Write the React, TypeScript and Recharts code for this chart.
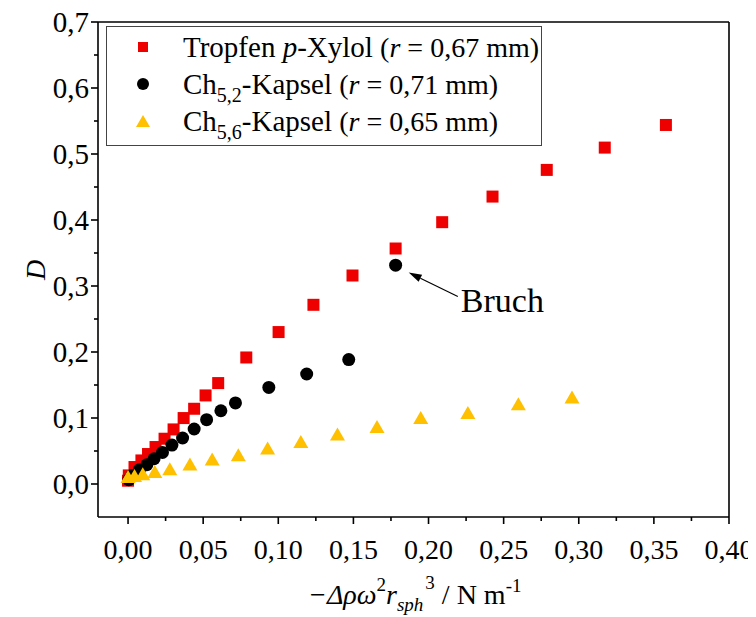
import React from "react";
import { ScatterChart, Scatter, XAxis, YAxis, ReferenceLine } from "recharts";

// ---- data ----
const tropfenX = [0.0, 0.0005, 0.0043, 0.0089, 0.0133, 0.0183, 0.0243, 0.0303, 0.037, 0.044, 0.0516, 0.06, 0.0787, 0.1002, 0.1234, 0.1494, 0.1781, 0.2091, 0.2426, 0.2787, 0.3173, 0.358];
const tropfenY = [0.005, 0.013, 0.0257, 0.0357, 0.0454, 0.056, 0.0686, 0.0827, 0.0999, 0.114, 0.1342, 0.1529, 0.1917, 0.2302, 0.2715, 0.3159, 0.3568, 0.3967, 0.4355, 0.4759, 0.5097, 0.544];
const kapsel52X = [0.0005, 0.0027, 0.0076, 0.0125, 0.0173, 0.0229, 0.0292, 0.0363, 0.044, 0.0523, 0.0618, 0.0715, 0.0937, 0.1189, 0.1469, 0.1781];
const kapsel52Y = [0.0065, 0.013, 0.0217, 0.0292, 0.0383, 0.0479, 0.059, 0.0697, 0.0833, 0.0974, 0.111, 0.1228, 0.1463, 0.1667, 0.1885, 0.3316];
const kapsel56X = [0.0, 0.0043, 0.0098, 0.0178, 0.0278, 0.0412, 0.056, 0.0734, 0.0929, 0.115, 0.1394, 0.1657, 0.1948, 0.2262, 0.2598, 0.2955];
const kapsel56Y = [0.0115, 0.013, 0.0156, 0.0191, 0.0232, 0.0303, 0.0379, 0.0444, 0.0545, 0.0645, 0.0757, 0.0872, 0.1008, 0.1084, 0.1216, 0.1317];

const xMajorTicks = [0, 0.05, 0.1, 0.15, 0.2, 0.25, 0.3, 0.35, 0.4];
const xMinorTicks = [0.025, 0.075, 0.125, 0.175, 0.225, 0.275, 0.325, 0.375];
const yMajorTicks = [0, 0.1, 0.2, 0.3, 0.4, 0.5, 0.6, 0.7];
const yMinorTicks = [0.05, 0.15, 0.25, 0.35, 0.45, 0.55, 0.65];
const xDomain = [-0.02, 0.4];
const yDomain = [-0.05, 0.7];

// annotation (data coordinates)
const bruchArrowTip = { x: 0.1868, y: 0.3204 };
const bruchArrowTail = { x: 0.2195, y: 0.2841 };
const bruchText = "Bruch";

const toPoints = (xs: number[], ys: number[]) => xs.map((x, i) => ({ x, y: ys[i] }));
const tropfen = toPoints(tropfenX, tropfenY);
const kapsel52 = toPoints(kapsel52X, kapsel52Y);
const kapsel56 = toPoints(kapsel56X, kapsel56Y);

const RED = "#EE0000";
const BLACK = "#000000";
const YELLOW = "#FFC000";
const FONT = "'Liberation Serif', 'Times New Roman', serif";

const isIn = (arr: number[], v: number) => arr.some((m) => Math.abs(m - v) < 1e-9);
const fmt = (v: number, d: number) => v.toFixed(d).replace(".", ",");

const XTick = (props: any) => {
  const { x, y, payload } = props;
  const major = isIn(xMajorTicks, payload.value);
  return (
    <g>
      <line x1={x} x2={x} y1={y} y2={y + (major ? 7 : 4)} stroke="#000" strokeWidth={1.6} />
      {major && (
        <text x={x} y={y + 42} textAnchor="middle" fontFamily={FONT} fontSize={28} fill="#000">
          {fmt(payload.value, 2)}
        </text>
      )}
    </g>
  );
};

const YTick = (props: any) => {
  const { x, y, payload } = props;
  const major = isIn(yMajorTicks, payload.value);
  return (
    <g>
      <line x1={x} x2={x - (major ? 7 : 4)} y1={y} y2={y} stroke="#000" strokeWidth={1.6} />
      {major && (
        <text x={x - 9} y={y + 10} textAnchor="end" fontFamily={FONT} fontSize={29} fill="#000">
          {fmt(payload.value, 1)}
        </text>
      )}
    </g>
  );
};

const SquareShape = (p: any) => <rect x={p.cx - 6} y={p.cy - 6} width={12} height={12} fill={RED} />;
const CircleShape = (p: any) => <circle cx={p.cx} cy={p.cy} r={6.5} fill={BLACK} />;
const TriangleShape = (p: any) => (
  <path d={`M${p.cx},${p.cy - 6.5} L${p.cx + 7.5},${p.cy + 6.5} L${p.cx - 7.5},${p.cy + 6.5} Z`} fill={YELLOW} />
);

const ArrowShape = (p: any) => {
  const { x1, y1, x2, y2 } = p;
  const ang = Math.atan2(y2 - y1, x2 - x1);
  const L = 13;
  const W = 4;
  const bx = x1 + L * Math.cos(ang);
  const by = y1 + L * Math.sin(ang);
  const px = -Math.sin(ang) * W;
  const py = Math.cos(ang) * W;
  return (
    <g>
      <line x1={bx} y1={by} x2={x2} y2={y2} stroke="#000" strokeWidth={1.2} />
      <path d={`M${x1},${y1} L${bx + px},${by + py} L${bx - px},${by - py} Z`} fill="#000" />
      <text x={x2 + 3} y={y2 + 16} fontFamily={FONT} fontSize={34} fill="#000">
        {bruchText}
      </text>
    </g>
  );
};

const XTitle = (props: any) => {
  const vb = props.viewBox || { x: 98, y: 517, width: 631 };
  const x0 = vb.x + 210;
  const y0 = vb.y + 87;
  return (
    <text x={x0} y={y0} fontFamily={FONT} fontSize={28} fill="#000">
      <tspan fontStyle="italic">−Δρω</tspan>
      <tspan fontSize={19} dy={-13}>2</tspan>
      <tspan fontStyle="italic" dy={13}>r</tspan>
      <tspan fontStyle="italic" fontSize={19} dy={7}>sph</tspan>
      <tspan fontSize={19} dy={-22} dx={2}>3</tspan>
      <tspan dy={15}>{" / N m"}</tspan>
      <tspan fontSize={19} dy={-12}>-1</tspan>
    </text>
  );
};

const LegendMarker = ({ kind }: { kind: string }) => (
  <svg width={18} height={18} style={{ display: "block" }}>
    {kind === "square" && <rect x={4} y={4} width={10} height={10} fill={RED} />}
    {kind === "circle" && <circle cx={9} cy={9} r={6} fill={BLACK} />}
    {kind === "triangle" && <path d="M9,3 L16,15 L2,15 Z" fill={YELLOW} />}
  </svg>
);

const subStyle = { fontSize: 20, verticalAlign: "-8px" };
const legendRows = [
  { kind: "square", main: <>Tropfen <i>p</i>-Xylol</>, r: "0,67" },
  { kind: "circle", main: <>Ch<sub style={subStyle}>5,2</sub>-Kapsel</>, r: "0,71" },
  { kind: "triangle", main: <>Ch<sub style={subStyle}>5,6</sub>-Kapsel</>, r: "0,65" },
];

export default function App() {
  return (
    <div style={{ position: "relative", width: 756, height: 617, margin: "-8px 0 0 -8px", fontFamily: FONT }}>
      <ScatterChart width={756} height={617} margin={{ top: 22, right: 27, left: 0, bottom: 0 }}>
        <XAxis
          type="number"
          dataKey="x"
          domain={xDomain}
          ticks={[...xMajorTicks, ...xMinorTicks]}
          allowDataOverflow
          height={100}
          tickSize={0}
          tickMargin={0}
          tickLine={false}
          tick={<XTick />}
          axisLine={{ stroke: "#000", strokeWidth: 1.6 }}
          interval={0}
          label={<XTitle />}
        />
        <YAxis
          type="number"
          dataKey="y"
          domain={yDomain}
          ticks={[...yMajorTicks, ...yMinorTicks]}
          allowDataOverflow
          width={98}
          tickSize={0}
          tickMargin={0}
          tickLine={false}
          tick={<YTick />}
          axisLine={{ stroke: "#000", strokeWidth: 1.6 }}
          interval={0}
        />
        <ReferenceLine y={0.7} stroke="#000" strokeWidth={1.6} ifOverflow="extendDomain" />
        <ReferenceLine x={0.4} stroke="#000" strokeWidth={1.6} ifOverflow="extendDomain" />
        <Scatter data={tropfen} shape={<SquareShape />} isAnimationActive={false} />
        <Scatter data={kapsel52} shape={<CircleShape />} isAnimationActive={false} />
        <Scatter data={kapsel56} shape={<TriangleShape />} isAnimationActive={false} />
        <ReferenceLine
          segment={[bruchArrowTip, bruchArrowTail]}
          shape={<ArrowShape />}
          ifOverflow="visible"
        />
      </ScatterChart>
      <div style={{ position: "absolute", left: 36, top: 270, transform: "translate(-50%,-50%) rotate(-90deg)", fontSize: 28, fontStyle: "italic", lineHeight: 1 }}>
        D
      </div>
      <div
        style={{
          position: "absolute",
          left: 106,
          top: 26,
          width: 436,
          height: 120,
          border: "1.3px solid #444",
          boxSizing: "border-box",
          background: "#fff",
        }}
      >
        {legendRows.map((row, i) => (
          <div
            key={i}
            style={{
              position: "absolute",
              left: 0,
              top: 20 + i * 37 - 18,
              height: 36,
              whiteSpace: "nowrap",
            }}
          >
            <div style={{ position: "absolute", left: 27, top: 9 }}>
              <LegendMarker kind={row.kind} />
            </div>
            <div style={{ position: "absolute", left: 76, top: 0, fontSize: 29, lineHeight: "36px" }}>
              {row.main}{" "}
              <span style={{ fontSize: 28 }}>
                (<i>r</i> = {row.r} mm)
              </span>
            </div>
          </div>
        ))}
      </div>
    </div>
  );
}
